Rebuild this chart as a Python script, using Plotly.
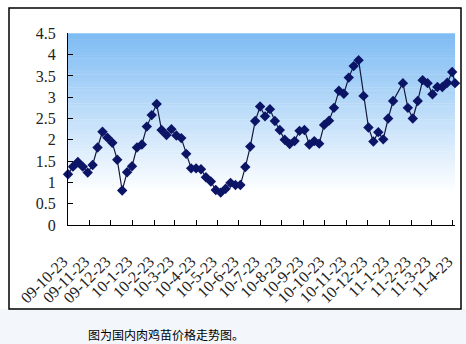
import plotly.graph_objects as go

dates = [
    "2009-10-23", "2009-10-30", "2009-11-06", "2009-11-13", "2009-11-20", "2009-11-27",
    "2009-12-04", "2009-12-11", "2009-12-18", "2009-12-25",
    "2010-01-01", "2010-01-08", "2010-01-15", "2010-01-22", "2010-01-29",
    "2010-02-05", "2010-02-12", "2010-02-19", "2010-02-26",
    "2010-03-05", "2010-03-12", "2010-03-19", "2010-03-26",
    "2010-04-02", "2010-04-09", "2010-04-16", "2010-04-23", "2010-04-30",
    "2010-05-07", "2010-05-14", "2010-05-21", "2010-05-28",
    "2010-06-04", "2010-06-11", "2010-06-18", "2010-06-25",
    "2010-07-02", "2010-07-09", "2010-07-16", "2010-07-23", "2010-07-30",
    "2010-08-06", "2010-08-13", "2010-08-20", "2010-08-27",
    "2010-09-03", "2010-09-10", "2010-09-17", "2010-09-24",
    "2010-10-01", "2010-10-08", "2010-10-15", "2010-10-22", "2010-10-29",
    "2010-11-05", "2010-11-12", "2010-11-19", "2010-11-26",
    "2010-12-03", "2010-12-10", "2010-12-17", "2010-12-24", "2010-12-31",
    "2011-01-07", "2011-01-14", "2011-01-21", "2011-01-28",
    "2011-02-11", "2011-02-18", "2011-02-25",
    "2011-03-04", "2011-03-11", "2011-03-18", "2011-03-25",
    "2011-04-01", "2011-04-08", "2011-04-15", "2011-04-22", "2011-04-26",
]

prices = [
    1.19, 1.37, 1.48, 1.37, 1.23, 1.41, 1.82, 2.19, 2.05, 1.93,
    1.53, 0.81, 1.24, 1.38, 1.82, 1.89, 2.31, 2.58, 2.84,
    2.23, 2.11, 2.25, 2.10, 2.04, 1.67, 1.33, 1.33, 1.31,
    1.12, 1.02, 0.82, 0.76, 0.85, 0.99, 0.94, 0.94,
    1.36, 1.84, 2.44, 2.78, 2.55, 2.72, 2.44, 2.23, 2.00,
    1.90, 1.97, 2.21, 2.23, 1.89, 1.97, 1.91, 2.35, 2.45,
    2.75, 3.15, 3.08, 3.46, 3.73, 3.87, 3.03, 2.29, 1.96,
    2.18, 2.01, 2.50, 2.91, 3.33, 2.75, 2.50,
    2.91, 3.40, 3.33, 3.07, 3.24, 3.24, 3.34, 3.59, 3.33,
]

tick_dates = [
    "2009-10-23", "2009-11-23", "2009-12-23", "2010-01-23", "2010-02-23",
    "2010-03-23", "2010-04-23", "2010-05-23", "2010-06-23", "2010-07-23",
    "2010-08-23", "2010-09-23", "2010-10-23", "2010-11-23", "2010-12-23",
    "2011-01-23", "2011-02-23", "2011-03-23", "2011-04-23",
]
tick_labels = [
    "09-10-23", "09-11-23", "09-12-23", "10-1-23", "10-2-23",
    "10-3-23", "10-4-23", "10-5-23", "10-6-23", "10-7-23",
    "10-8-23", "10-9-23", "10-10-23", "10-11-23", "10-12-23",
    "11-1-23", "11-2-23", "11-3-23", "11-4-23",
]
y_ticks = [0, 0.5, 1, 1.5, 2, 2.5, 3, 3.5, 4, 4.5]
y_labels = ["0", "0.5", "1", "1.5", "2", "2.5", "3", "3.5", "4", "4.5"]
caption = "图为国内肉鸡苗价格走势图。"

W, H = 466, 344
fig = go.Figure()
fig.add_trace(go.Scatter(
    x=dates, y=prices, mode="lines+markers",
    line=dict(color="#14183c", width=1.2),
    marker=dict(symbol="diamond", size=8, color="#0c1466"),
    cliponaxis=False, showlegend=False,
))

shapes = []
shapes.append(dict(type="rect", xref="paper", yref="paper", x0=0, x1=1, y0=0, y1=(H - 309) / H,
                   fillcolor="#f3f6fb", line=dict(width=0), layer="below"))
shapes.append(dict(type="rect", xref="paper", yref="paper", x0=9 / W, x1=461 / W,
                   y0=(H - 309) / H, y1=(H - 8) / H, fillcolor="white",
                   line=dict(color="black", width=1.5), layer="below"))
n = 60
top = (125, 187, 243)
for i in range(n):
    t0 = i / n
    t1 = (i + 1) / n
    tm = (t0 + t1) / 2
    f = max(0.0, (tm - 0.17) / 0.83)
    r = round(255 - f * (255 - top[0]))
    g = round(255 - f * (255 - top[1]))
    b = round(255 - f * (255 - top[2]))
    shapes.append(dict(type="rect", xref="x domain", yref="y domain", x0=0, x1=1,
                       y0=t0, y1=min(1, t1 + 0.002), fillcolor=f"rgb({r},{g},{b})",
                       line=dict(width=0), layer="below"))

fig.update_layout(
    width=W, height=H, margin=dict(l=0, r=0, t=0, b=0, autoexpand=False),
    paper_bgcolor="white", plot_bgcolor="rgba(0,0,0,0)",
    shapes=shapes,
    xaxis=dict(
        domain=[68 / W, 455 / W], type="date", automargin=False,
        range=["2009-10-23", "2011-04-26"],
        tickmode="array", tickvals=tick_dates, ticktext=tick_labels,
        tickangle=-45, ticks="inside", ticklen=5, tickcolor="black",
        showline=True, linecolor="black", linewidth=1, showgrid=False, zeroline=False,
        tickfont=dict(family="Liberation Serif", size=16, color="#222222"),
        ticklabelstandoff=20, ticklabelshift=-5,
    ),
    yaxis=dict(
        domain=[(H - 225) / H, (H - 33.3) / H], range=[0, 4.5], automargin=False,
        tickmode="array", tickvals=y_ticks, ticktext=y_labels,
        ticks="inside", ticklen=5, tickcolor="black",
        showline=True, linecolor="black", linewidth=1, showgrid=False, zeroline=False,
        tickfont=dict(family="Liberation Serif", size=16, color="#222222"),
        ticklabelstandoff=8,
    ),
    annotations=[dict(
        text=caption, xref="paper", yref="paper", x=86 / W, y=(H - 334.5) / H,
        xanchor="left", yanchor="middle", showarrow=False,
        font=dict(family="Noto Sans CJK SC", size=12, color="black"),
    )],
)

fig.write_html("out.html")
